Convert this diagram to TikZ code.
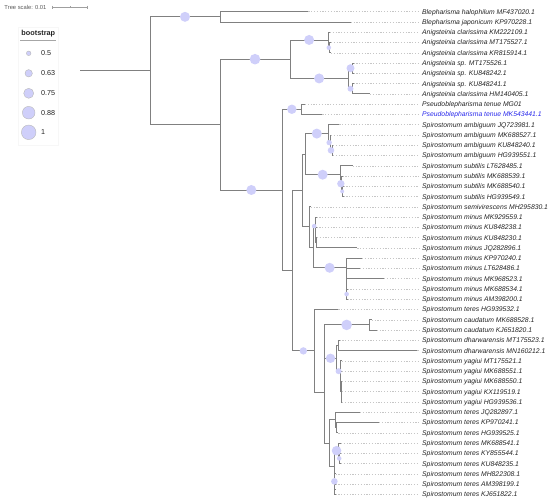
\documentclass[tikz,border=0pt]{standalone}
\usepackage{fontspec}
\setmainfont{Liberation Sans}
\usetikzlibrary{calc}
\definecolor{bsfill}{RGB}{207,207,250}
\definecolor{branchc}{RGB}{128,128,128}
\definecolor{labc}{RGB}{35,35,35}
\definecolor{hilite}{RGB}{40,40,235}
\begin{document}
\begin{tikzpicture}[x=1pt,y=-1pt,
  br/.style={draw=branchc, line width=0.85pt},
  lead/.style={draw=gray!45, line width=0.45pt, dash pattern=on 1.2pt off 1.6pt},
  lab/.style={anchor=west, inner sep=0pt, text height=4.9pt, text depth=0pt, font=\fontsize{6.8}{8}\selectfont\itshape},
  bsc/.style={circle, fill=bsfill, inner sep=0pt},
  legc/.style={circle, fill=bsfill, draw=gray!55, line width=0.4pt, inner sep=0pt},
  legt/.style={anchor=west, inner sep=0pt, text height=5.2pt, text depth=0pt, font=\fontsize{7.2}{8}\selectfont, text=labc},
]
\useasboundingbox (0,0) rectangle (550,502);

% ---------- tree scale ----------
\node[anchor=west, inner sep=0pt, font=\fontsize{5.8}{7}\selectfont, text=black!65] (ts) at (4.3,7.3) {Tree scale: 0.01};
\coordinate (sb1) at (52.3,7.3);
\coordinate (sb2) at (87.3,7.3);
\coordinate (sbm) at (69.8,7.3);
\draw[gray!75, line width=0.5pt] (sb1) -- (sb2);
\draw[gray!75, line width=0.5pt] ($(sb1)+(0,-1.6)$) -- ($(sb1)+(0,1.6)$);
\draw[gray!75, line width=0.5pt] ($(sb2)+(0,-1.6)$) -- ($(sb2)+(0,1.6)$);
\draw[gray!75, line width=0.5pt] ($(sbm)+(0,-1.2)$) -- ($(sbm)+(0,1.2)$);

% ---------- legend ----------
\draw[black!3, line width=0.5pt] (18.5,27) rectangle (58,145);
\node[inner sep=0pt, font=\bfseries\fontsize{7.3}{9}\selectfont, text=labc] (lgt) at (38.3,33.7) {bootstrap};
\coordinate (u1) at (20,40.7);
\coordinate (u2) at (55.7,40.7);
\draw[gray!70, line width=0.5pt] (u1) -- (u2);
\node[legc, minimum size=4.6pt]  (lg1) at (28.7,53.3) {};
\node[legc, minimum size=7.4pt]  (lg2) at (28.7,73.3) {};
\node[legc, minimum size=10pt]   (lg3) at (28.7,93.3) {};
\node[legc, minimum size=12.6pt] (lg4) at (28.7,112.7) {};
\node[legc, minimum size=14.6pt] (lg5) at (28.7,132.3) {};
\node[legt] (lt1) at (41,53.3) {0.5};
\node[legt] (lt2) at (41,73.3) {0.63};
\node[legt] (lt3) at (41,93.3) {0.75};
\node[legt] (lt4) at (41,112.7) {0.88};
\node[legt] (lt5) at (41,132.3) {1};

% ---------- leaves ----------
\foreach \i/\tx/\lab in {
1/308.3/Blepharisma halophilum MF437020.1,
2/350.7/Blepharisma japonicum KP970228.1,
3/330/Anigsteinia clarissima KM222109.1,
4/331/Anigsteinia clarissima MT175527.1,
5/331/Anigsteinia clarissima KR815914.1,
6/353.5/Anigsteinia sp. MT175526.1,
7/353.5/Anigsteinia sp. KU848242.1,
8/353.5/Anigsteinia sp. KU848241.1,
9/370/Anigsteinia clarissima HM140405.1,
10/305/Pseudoblepharisma tenue MG01,
11/322.3/Pseudoblepharisma tenue MK543441.1,
12/339.3/Spirostomum ambiguum JQ723981.1,
13/331/Spirostomum ambiguum MK688527.1,
14/333/Spirostomum ambiguum KU848240.1,
15/333/Spirostomum ambiguum HG939551.1,
16/352.7/Spirostomum subtilis LT628485.1,
17/342.5/Spirostomum subtilis MK688539.1,
18/343.5/Spirostomum subtilis MK688540.1,
19/343.5/Spirostomum subtilis HG939549.1,
20/310.7/Spirostomum semivirescens MH295830.1,
21/316.5/Spirostomum minus MK929559.1,
22/316.5/Spirostomum minus KU848238.1,
23/317/Spirostomum minus KU848230.1,
24/357.3/Spirostomum minus JQ282896.1,
25/362/Spirostomum minus KP970240.1,
26/360/Spirostomum minus LT628486.1,
27/384/Spirostomum minus MK968523.1,
28/347.5/Spirostomum minus MK688534.1,
29/347.5/Spirostomum minus AM398200.1,
30/338.3/Spirostomum teres HG939532.1,
31/371.7/Spirostomum caudatum MK688528.1,
32/376.7/Spirostomum caudatum KJ651820.1,
33/339.5/Spirostomum dharwarensis MT175523.1,
34/417.3/Spirostomum dharwarensis MN160212.1,
35/342/Spirostomum yagiui MT175521.1,
36/342/Spirostomum yagiui MK688551.1,
37/342/Spirostomum yagiui MK688550.1,
38/342/Spirostomum yagiui KX119519.1,
39/342/Spirostomum yagiui HG939536.1,
40/360/Spirostomum teres JQ282897.1,
41/379/Spirostomum teres KP970241.1,
42/338.3/Spirostomum teres HG939525.1,
43/341/Spirostomum teres MK688541.1,
44/341/Spirostomum teres KY855544.1,
45/341/Spirostomum teres KU848235.1,
46/335.5/Spirostomum teres MH822308.1,
47/335.5/Spirostomum teres AM398199.1,
48/335.5/Spirostomum teres KJ651822.1}{
  \pgfmathsetmacro\ly{11.7+10.27*(\i-1)}
  \ifnum\i=11 \def\tc{hilite}\else\def\tc{labc}\fi
  \coordinate (l\i) at (\tx,\ly);
  \node[lab, text=\tc] (t\i) at (422,\ly) {\lab};
}

% ---------- internal nodes ----------
\coordinate (R0) at (80,70.7);
\coordinate (R) at (150,70.7);
\coordinate (B) at (220,16.84);
\coordinate (C) at (220,124.6);
\coordinate (A) at (290,59.2);
\coordinate (A1) at (328.3,39.94);
\coordinate (A1b) at (329.3,47.65);
\coordinate (A2) at (348.3,78.46);
\coordinate (A2a) at (352.7,68.19);
\coordinate (A2b) at (352.7,88.73);
\coordinate (PS) at (282.7,190.0);
\coordinate (P) at (301,109.27);
\coordinate (S) at (292.7,270.7);
\coordinate (S1) at (302.7,190.55);
\coordinate (S1a) at (305.3,154.2);
\coordinate (Amb) at (328.3,133.6);
\coordinate (Amb2) at (330,142.6);
\coordinate (Amb3) at (332,150.35);
\coordinate (Sub) at (340,174.7);
\coordinate (Sub2) at (341.7,183.7);
\coordinate (Sub3) at (342.7,191.4);
\coordinate (S1b) at (309,226.9);
\coordinate (M) at (313.3,246.95);
\coordinate (MA) at (315,226.1);
\coordinate (MAb) at (315.5,235.1);
\coordinate (MAc) at (316,242.8);
\coordinate (MB) at (346,267.8);
\coordinate (MBc) at (346.2,277.4);
\coordinate (MBd) at (346.4,286.4);
\coordinate (MB2) at (346.8,294.1);
\coordinate (S2) at (314,350.9);
\coordinate (S2a) at (324,392.3);
\coordinate (S2b) at (324.3,341.6);
\coordinate (Caud) at (369,324.9);
\coordinate (DY) at (336.7,358.3);
\coordinate (Dh) at (338.3,345.5);
\coordinate (Y) at (340.5,371.2);
\coordinate (Yb) at (340.8,381.4);
\coordinate (Yc) at (341,391.69);
\coordinate (T) at (329.3,442.95);
\coordinate (TA) at (335.7,419.9);
\coordinate (TAb) at (336,427.6);
\coordinate (TB) at (334.3,466.0);
\coordinate (TB1) at (338.8,450.7);
\coordinate (TB1b) at (339.6,458.4);
\coordinate (TB2) at (334.5,481.4);
\coordinate (TB2b) at (334.7,489.2);

% ---------- leader lines ----------
\foreach \i in {1,...,48}
  \draw[lead] (l\i) -- ([xshift=-3pt]t\i.west);

% ---------- branches ----------
\draw[br] (R0) -- (R);
\foreach \p/\c in {R/B, R/C, B/l1, B/l2, C/A, C/PS, A/A1, A/A2, A1/l3, A1/A1b, A1b/l4, A1b/l5,
  A2/A2a, A2/A2b, A2a/l6, A2a/l7, A2b/l8, A2b/l9, PS/P, PS/S, P/l10, P/l11,
  S/S1, S/S2, S1/S1a, S1/S1b, S1a/Amb, S1a/Sub, Amb/l12, Amb/Amb2, Amb2/l13, Amb2/Amb3,
  Amb3/l14, Amb3/l15, Sub/l16, Sub/Sub2, Sub2/l17, Sub2/Sub3, Sub3/l18, Sub3/l19,
  S1b/l20, S1b/M, M/MA, M/MB, MA/l21, MA/MAb, MAb/l22, MAb/MAc, MAc/l23, MAc/l24,
  MB/l25, MB/MBc, MBc/l26, MBc/MBd, MBd/l27, MBd/MB2, MB2/l28, MB2/l29,
  S2/l30, S2/S2a, S2a/S2b, S2a/T, S2b/Caud, S2b/DY, Caud/l31, Caud/l32,
  DY/Dh, DY/Y, Dh/l33, Dh/l34, Y/l35, Y/Yb, Yb/l36, Yb/Yc, Yc/l37, Yc/l38, Yc/l39,
  T/TA, T/TB, TA/l40, TA/TAb, TAb/l41, TAb/l42, TB/TB1, TB/TB2, TB1/l43, TB1/TB1b,
  TB1b/l44, TB1b/l45, TB2/l46, TB2/TB2b, TB2b/l47, TB2b/l48}
  \draw[br] (\p) |- (\c);

% ---------- bootstrap symbols ----------
\foreach \p/\c/\d in {R/B/10, C/A/10.6, A/A1/10, A1/A1b/4.6, A/A2/10, A2/A2a/8, A2/A2b/6,
  C/PS/10, PS/P/9.4, S1a/Amb/10, Amb/Amb2/5.4, Amb2/Amb3/6.6, S1a/Sub/10, Sub/Sub2/7.4,
  Sub2/Sub3/4, M/MA/4.6, M/MB/10, MBd/MB2/4.6, S/S2/7.4, S2b/Caud/10.6, S2b/DY/9.4,
  DY/Y/6, TB/TB1/9.6, TB1/TB1b/4.6, TB/TB2/6.6}
  \node[bsc, minimum size=\d pt] (bs-\c) at ($(\p |- \c)!0.5!(\c)$) {};
\end{tikzpicture}
\end{document}
